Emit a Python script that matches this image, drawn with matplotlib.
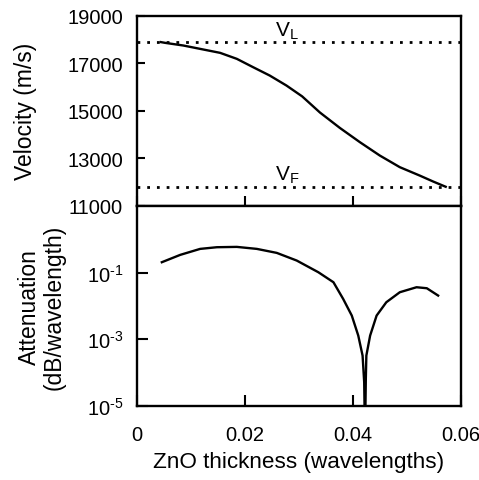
import matplotlib
matplotlib.use("Agg")
import matplotlib.pyplot as plt
import numpy as np

plt.rcParams['font.family'] = ['Liberation Sans', 'DejaVu Sans']
plt.rcParams['mathtext.fontset'] = 'custom'
plt.rcParams['mathtext.rm'] = 'Liberation Sans'
plt.rcParams['mathtext.it'] = 'Liberation Sans'
plt.rcParams['axes.unicode_minus'] = False

# velocity curve (top panel)
vel_x = [0.0044, 0.0052, 0.0086, 0.0123, 0.0154, 0.0185, 0.0215, 0.0246, 0.0277, 0.0306,
         0.0339, 0.0376, 0.0413, 0.0450, 0.0487, 0.0524, 0.0549, 0.0572]
vel_y = [17895, 17863, 17750, 17582, 17442, 17189, 16840, 16486, 16065, 15610,
         14930, 14280, 13682, 13118, 12629, 12275, 12023, 11805]
v_l = 17890
v_f = 11810

# attenuation curve (bottom panel), log10 values
att_x = [0.0046, 0.0080, 0.0117, 0.0148, 0.0185, 0.0222, 0.0259, 0.0296, 0.0336, 0.0364,
         0.0382, 0.0398, 0.0410, 0.0418, 0.0421, 0.04225, 0.0424, 0.0425, 0.0432, 0.0444,
         0.0462, 0.0487, 0.0518, 0.0537, 0.0558]
att_log = [-0.69, -0.47, -0.29, -0.24, -0.23, -0.29, -0.41, -0.64, -0.99, -1.29,
           -1.79, -2.29, -2.89, -3.49, -4.29, -6.0, -4.2, -3.49, -2.89, -2.29,
           -1.89, -1.59, -1.44, -1.47, -1.69]
att_y = [10 ** v for v in att_log]
att_ticks = [1e-5, 1e-3, 1e-1]
att_labels = [r'10$^{\text{-5}}$', r'10$^{\text{-3}}$', r'10$^{\text{-1}}$']

fig = plt.figure(figsize=(4.79, 4.81), dpi=100)
gs = fig.add_gridspec(2, 1, height_ratios=[190, 200], hspace=0,
                      left=0.286, right=0.962, bottom=0.154, top=0.965)
ax1 = fig.add_subplot(gs[0])
ax2 = fig.add_subplot(gs[1], sharex=ax1)

lw = 1.7
ax1.plot(vel_x, vel_y, color='black', lw=lw)
ax1.axhline(v_l, color='black', lw=2, ls=(0, (1, 2.5)))
ax1.axhline(v_f, color='black', lw=2, ls=(0, (1, 2.5)))
ax1.text(0.0255, v_l + 60, r'V$_\mathregular{L}$', fontsize=15, ha='left', va='bottom')
ax1.text(0.0255, v_f + 80, r'V$_\mathregular{F}$', fontsize=15, ha='left', va='bottom')
ax1.set_ylim(11000, 19000)
ax1.set_yticks([11000, 13000, 15000, 17000, 19000])
ax1.set_xlim(0, 0.06)
ax1.set_xticks([0, 0.02, 0.04, 0.06])
ax1.tick_params(axis='x', direction='in', length=7, width=1.5, labelbottom=False)
ax1.tick_params(axis='y', direction='in', length=6, width=1.5, labelsize=14.5, pad=10)
ax1.set_ylabel('Velocity (m/s)', fontsize=16.5, labelpad=22)

ax2.plot(att_x, att_y, color='black', lw=lw)
ax2.set_yscale('log')
ax2.set_ylim(1e-5, 10)
ax2.set_yticks(att_ticks)
ax2.set_yticklabels(att_labels)
ax2.minorticks_off()
ax2.tick_params(axis='both', direction='in', length=8, width=1.5, labelsize=14.5)
ax2.tick_params(axis='y', pad=10)
ax2.tick_params(axis='x', pad=14)
ax2.set_xticklabels(['0', '0.02', '0.04', '0.06'])
ax2.set_xlabel('ZnO thickness (wavelengths)', fontsize=16.2, labelpad=5)
ax2.set_ylabel('Attenuation\n(dB/wavelength)', fontsize=16.5, labelpad=15, linespacing=1.1)

for ax in (ax1, ax2):
    for s in ax.spines.values():
        s.set_linewidth(1.7)

fig.savefig('out.png', dpi=100)
